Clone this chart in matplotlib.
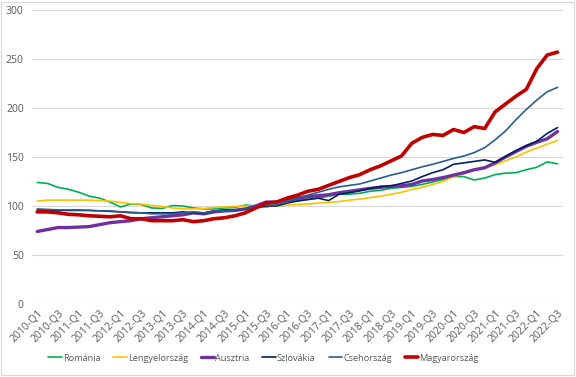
"""Regional house price index lines, 2010-Q1 .. 2022-Q3."""

import matplotlib

matplotlib.use("Agg")
import matplotlib.pyplot as plt  # noqa: E402
from matplotlib.patches import Rectangle  # noqa: E402

quarters = [f"{y}-Q{q}" for y in range(2010, 2023) for q in range(1, 5)][:51]

romania = [124, 123, 119, 117, 114, 110, 108, 104, 99, 102,
           101.5, 98, 97.5, 100.5, 100, 98, 97, 97, 98, 98.5,
           101, 100, 99, 101, 104, 106, 107, 108, 110, 112,
           112, 113, 115, 116, 118, 119, 120, 122, 124.5, 127,
           130, 130, 126.5, 128.5, 132, 133.5, 134, 137, 139.5, 145, 143]
lengyel = [105, 106, 106, 106, 106, 106, 105.5, 105, 103.5, 102.5,
           102, 100.5, 99.5, 98, 97, 97, 97.5, 98.5, 99, 99.5,
           100, 100, 100, 100, 101, 101.5, 102, 103, 103.5, 104.5,
           106, 107, 108.5, 110, 112, 114, 117, 119, 122, 125,
           130, 133, 137, 139, 142, 146, 150, 155, 159, 163, 167]
ausztria = [74, 76, 78, 78, 78.5, 79, 81, 83, 84, 85,
            87, 88, 89, 90, 91, 93, 92, 94, 95, 95.5,
            97, 100, 104, 104, 106, 108, 109.5, 110.5, 111.5, 113.5,
            115, 116.5, 118, 119, 120, 120.5, 122, 125.5, 127, 129,
            131.5, 134, 137, 139, 144, 150, 155.5, 161, 165, 168.5, 176]
szlovakia = [96, 96, 95.5, 95.5, 95.5, 95.5, 95, 94.5, 94, 93.5,
             93, 93, 93, 93, 94, 93, 92.5, 95, 96, 96,
             97, 98, 100, 100, 103, 105, 106.5, 108, 105.5, 112,
             113.5, 115.5, 118, 120, 120.5, 123, 125.5, 130, 134, 137,
             142.5, 144, 145.5, 147, 144.5, 150.5, 156.5, 161.5, 166, 174, 180]
cseh = [97, 96.5, 96, 96, 96, 95.5, 95, 95, 94, 93,
        93, 92, 92, 92, 93, 94, 93, 95, 95, 96,
        97, 99, 101, 101, 104, 108, 111, 114, 117, 119.5,
        121, 122.5, 125.5, 128.5, 131.5, 134, 137, 140, 142.5, 145.5,
        148.5, 151, 154.5, 159.5, 167.5, 176.5, 188, 198.5, 208, 216.5, 221]
magyar = [94, 94, 93, 91.5, 91, 90, 89.5, 89, 90, 87,
          87, 85, 85, 85, 86, 84, 85, 87, 88, 90,
          93, 98, 103, 104, 108, 111, 115, 117, 121, 125,
          129, 132, 137, 141, 146, 151, 164, 170, 173, 172,
          178, 175, 181, 179, 196, 204, 212, 219, 240, 254, 257]

series = [
    ("Románia", romania, "#00B050", 1.2),
    ("Lengyelország", lengyel, "#FFC000", 1.2),
    ("Ausztria", ausztria, "#7030A0", 2.4),
    ("Szlovákia", szlovakia, "#002060", 1.2),
    ("Csehország", cseh, "#2A5C92", 1.2),
    ("Magyarország", magyar, "#C00000", 2.6),
]

plt.rcParams["font.family"] = ["Open Sans", "DejaVu Sans"]
grey = "#595959"

fig = plt.figure(figsize=(5.76, 3.77), dpi=100)
ax = fig.add_axes([0.0556, 0.1936, 0.9214, 0.78])

xs = list(range(len(quarters)))
for name, vals, col, lw in series:
    ax.plot(xs, vals, color=col, linewidth=lw, label=name,
            solid_joinstyle="round", solid_capstyle="round")

ax.set_ylim(0, 300)
ax.set_xlim(-0.5, len(quarters) - 0.5)
ax.set_yticks(range(0, 301, 50))
ax.grid(True, axis="y", color="#D9D9D9", linewidth=0.8)
ax.set_axisbelow(True)
for s in ax.spines.values():
    s.set_visible(False)
ax.tick_params(axis="both", length=0, colors=grey, labelsize=7.5)
ax.tick_params(axis="y", pad=6)
ax.tick_params(axis="x", pad=3)

ax.set_xticks(xs[::2])
ax.set_xticklabels(quarters[::2], rotation=45, ha="right",
                   rotation_mode="anchor")

# legend sits in the strip under the rotated tick labels
fig.legend(loc="center", bbox_to_anchor=(0.457, 0.05), ncol=6,
           frameon=False, fontsize=6.6, handlelength=1.5,
           handletextpad=0.1, columnspacing=1.4, labelcolor=grey)

fig.patches.append(Rectangle((0.002, 0.004), 0.994, 0.992,
                             transform=fig.transFigure, fill=False,
                             edgecolor="#D9D9D9", linewidth=0.8))

fig.savefig("out.png", dpi=100)
